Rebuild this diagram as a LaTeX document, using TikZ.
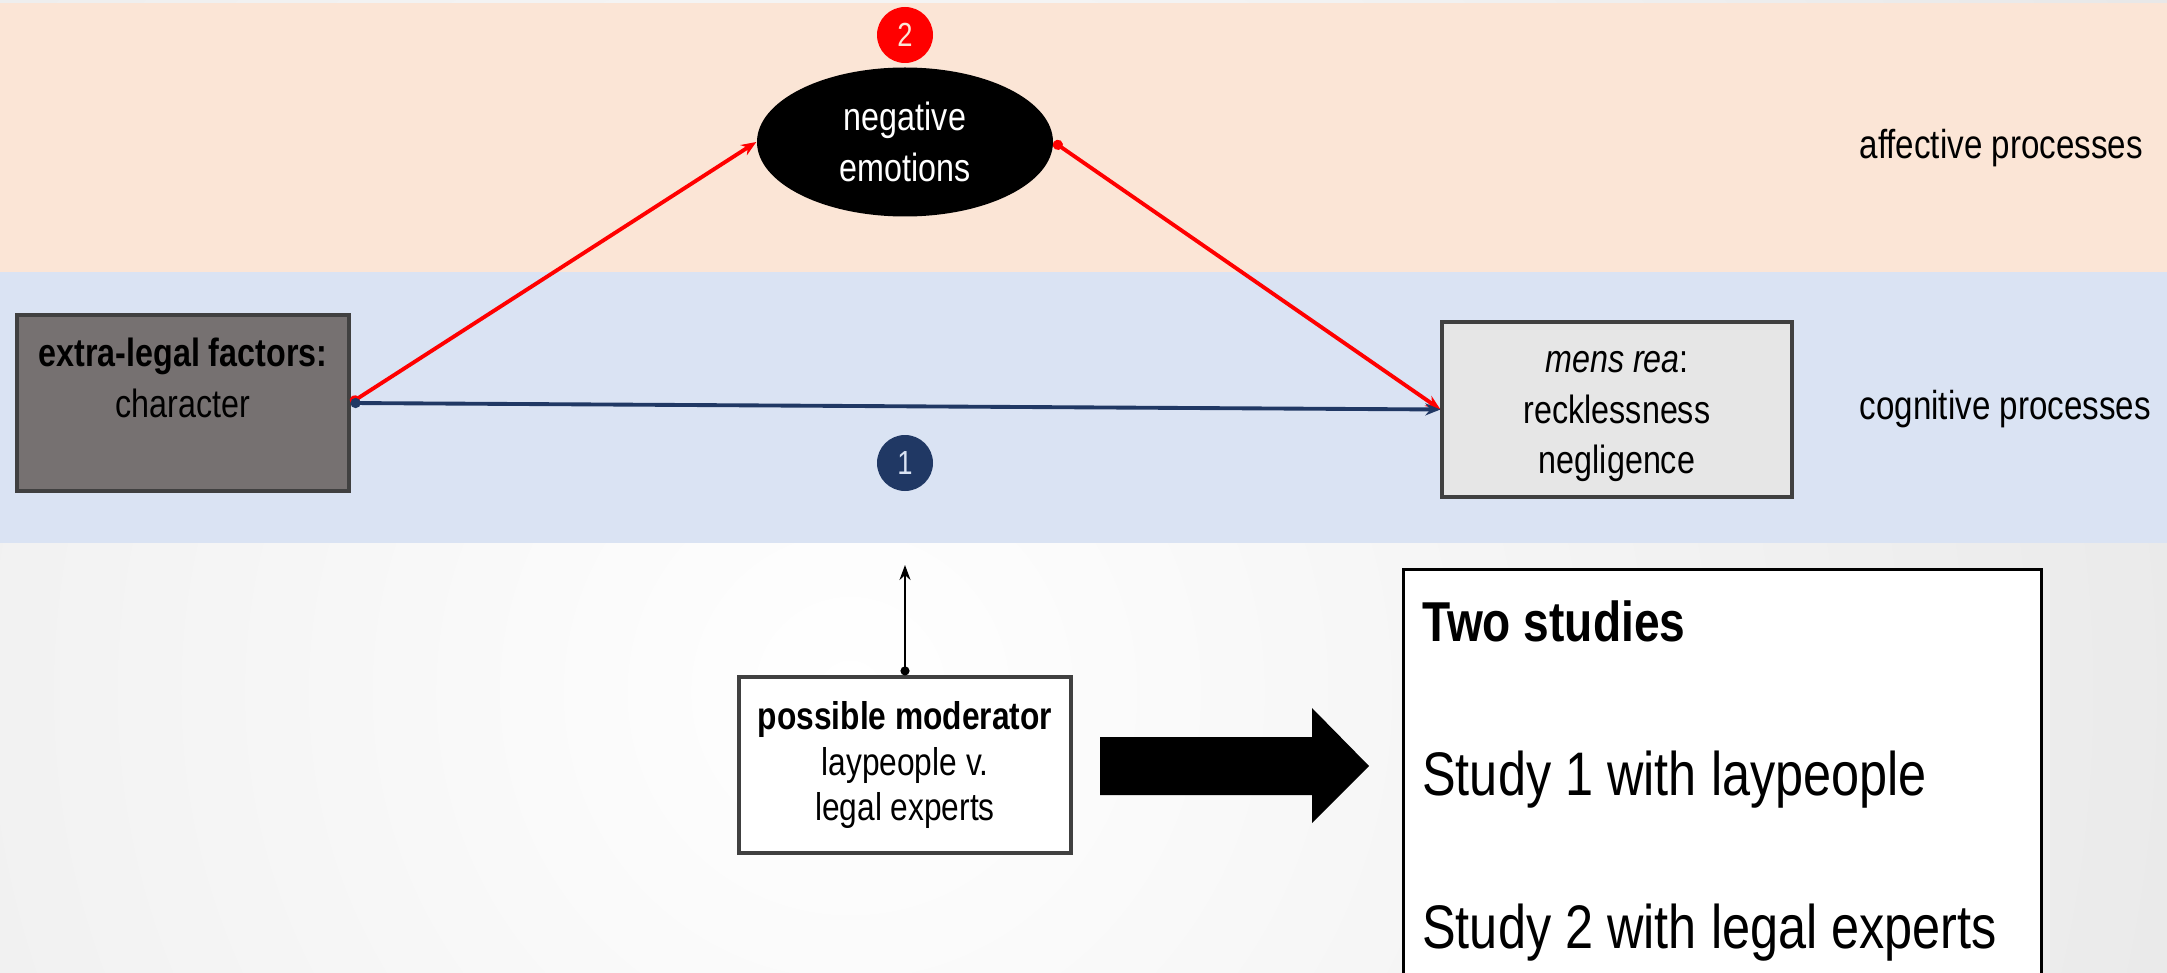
\documentclass[tikz,border=0pt]{standalone}
\usepackage{fontspec}
\setmainfont{Liberation Sans}[FakeStretch=0.82]
\usetikzlibrary{shapes.geometric,arrows.meta}

\definecolor{affback}{HTML}{FBE5D6}
\definecolor{cogback}{HTML}{DAE3F3}
\definecolor{navy}{HTML}{203864}
\definecolor{darkbox}{HTML}{767171}
\definecolor{lightbox}{HTML}{E6E6E6}
\definecolor{edge}{HTML}{404040}

\tikzset{
  boxtext/.style={font=\fontsize{11.2}{14.4}\selectfont, align=center, inner sep=0pt},
  infobox/.style={draw=edge, line width=0.9pt, minimum width=3.32cm, minimum height=1.76cm, inner sep=0pt},
  badge/.style={circle, minimum size=0.56cm, inner sep=0pt, font=\fontsize{9.5}{10}\selectfont},
  sidelabel/.style={font=\fontsize{11.5}{13}\selectfont, anchor=base west, inner sep=0pt},
  route/.style={line width=1.1pt, {Circle[length=1mm]}-{Stealth[length=1.5mm,width=1.2mm]}},
  studybox/.style={draw=black, line width=0.75pt, fill=white, text width=6.0cm, align=flush left,
    inner xsep=0.19cm, inner ysep=0.31cm, font=\fontsize{17.5}{43.8}\selectfont}
}

\begin{document}
\begin{tikzpicture}
    \useasboundingbox (0,0) rectangle (21.67,9.72);

    % Background
    \begin{scope}
        \clip (0,0) rectangle (21.67,9.72);
        \shade[inner color=white, outer color=black!16] (-17.5,-23.2) rectangle (34.5,28.8);
    \end{scope}
    \fill[affback] (0,7.00) rectangle (21.67,9.69);
    \fill[cogback] (0,4.29) rectangle (21.67,7.00);

    % Process labels
    \node[sidelabel] (afflabel) at (18.59,8.13) {affective processes};
    \node[sidelabel] (coglabel) at (18.59,5.52) {cognitive processes};

    % Boxes
    \node[infobox, fill=darkbox] (fac) at (1.83,5.69) {};
    \node[boxtext, anchor=north] (factxt) at ([yshift=-0.24cm]fac.north) {\textbf{extra-legal factors:}\\character};
    \node[infobox, fill=lightbox, minimum width=3.50cm, minimum height=1.75cm] (mens) at (16.17,5.625) {};
    \node[boxtext] (menstxt) at ([yshift=-0.07cm]mens.center) {\textit{mens rea}:\\recklessness\\negligence};
    \node[ellipse, fill=black, text=white, minimum width=2.96cm, minimum height=1.49cm, boxtext] (emo) at (9.05,8.30)
        {negative\\emotions};
    \node[infobox, fill=white, boxtext, font=\fontsize{11}{13}\selectfont] (mod) at (9.05,2.07)
        {\textbf{possible moderator}\\laypeople v.\\legal experts};

    % Badges
    \node[badge, fill=red, text=affback] (two) at (9.05,9.37) {2};
    \node[badge, fill=navy, text=cogback] (one) at (9.05,5.09) {1};

    % Paths
    \draw[route, red] (fac.east) -- (emo.west);
    \draw[route, red] (emo.east) -- (mens.west);
    \draw[route, navy] (fac.east) -- (mens.west);

    % Moderator
    \coordinate (modtip) at (9.05,4.07);
    \draw[line width=0.6pt, {Circle[length=0.9mm]}-{Stealth[length=1.5mm,width=1.1mm]}] (mod.north) -- (modtip);

    % Block arrow
    \fill[black] (11.00,1.77) -- (13.12,1.77) -- (13.12,1.49) -- (13.69,2.06) -- (13.12,2.64) -- (13.12,2.35) -- (11.00,2.35) -- cycle;

    % Studies
    \node[studybox, anchor=north west] (studies) at (14.02,4.04)
        {{\fontsize{16}{43.8}\selectfont\bfseries Two studies}\\Study 1 with laypeople\\Study 2 with legal experts};
\end{tikzpicture}
\end{document}
